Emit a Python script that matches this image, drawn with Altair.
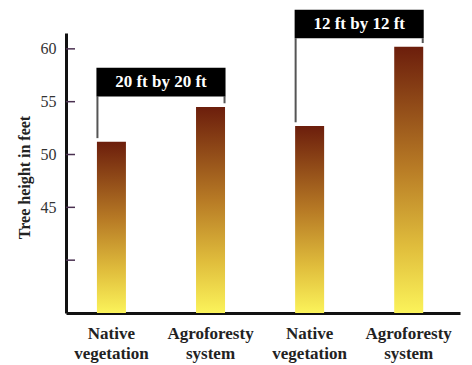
import altair as alt
import pandas as pd

# data
positions = [0, 1, 2, 3]
categories = ["Native\nvegetation", "Agroforesty\nsystem", "Native\nvegetation", "Agroforesty\nsystem"]
heights = [51.2, 54.5, 52.7, 60.2]

bracket_labels = ["20 ft by 20 ft", "12 ft by 12 ft"]
bracket_left = [0, 2]
bracket_right = [1, 3]
bracket_top = [58.2, 63.7]
bracket_bottom = [55.5, 61.0]

y_ticks = [40, 45, 50, 55, 60]

bars = pd.DataFrame({"pos": positions, "cat": categories, "h": heights})
br = pd.DataFrame({
    "label": bracket_labels,
    "left": bracket_left,
    "right": bracket_right,
    "mid": [(a + b) / 2 for a, b in zip(bracket_left, bracket_right)],
    "top": bracket_top,
    "bottom": bracket_bottom,
    "lend": [heights[i] + 0.35 for i in bracket_left],
    "rend": [heights[i] + 0.35 for i in bracket_right],
})
ticks = pd.DataFrame({"t": y_ticks})

SERIF = "Liberation Serif"
xs = alt.Scale(domain=[-0.408, 3.467], nice=False, zero=False)
ys = alt.Scale(domain=[35, 61.5], nice=False, zero=False)

grad = alt.Gradient(
    gradient="linear",
    x1=0, x2=0, y1=1, y2=0,
    stops=[
        alt.GradientStop(color="#fbf35a", offset=0),
        alt.GradientStop(color="#e0bd3c", offset=0.25),
        alt.GradientStop(color="#b77a25", offset=0.55),
        alt.GradientStop(color="#6c1e0c", offset=1),
    ],
)

base_bar = alt.Chart(bars).mark_bar(size=29, color=grad).encode(
    x=alt.X("pos:Q", scale=xs, axis=alt.Axis(
        labels=False, ticks=False, title=None, grid=False,
        domainColor="#111", domainWidth=3)),
    y=alt.Y("h:Q", scale=ys, axis=alt.Axis(
        values=y_ticks, ticks=False, grid=False,
        labelExpr="datum.value == 40 ? '' : datum.label",
        labelFont=SERIF, labelFontSize=16, labelColor="#333",
        labelPadding=10, domainColor="#111", domainWidth=3,
        title="Tree height in feet", titleFont=SERIF, titleFontSize=16,
        titleFontWeight="bold", titleColor="#222",
        titleX=-42, titleY=144, titleAngle=270,
        titleAlign="center", titleBaseline="middle")),
    y2=alt.datum(35),
)

tick_marks = alt.Chart(ticks).mark_rule(color="#4a3050", strokeWidth=1.5).encode(
    x=alt.value(0), x2=alt.value(9), y=alt.Y("t:Q", scale=ys),
)

cat_text = alt.Chart(bars).mark_text(
    font=SERIF, fontSize=17, fontWeight="bold", color="#222",
    baseline="top", lineBreak="\n", lineHeight=20,
).encode(
    x=alt.X("pos:Q", scale=xs), y=alt.value(293), text="cat:N",
)

boxes = alt.Chart(br).mark_rect(color="#000", xOffset=-15, x2Offset=15).encode(
    x=alt.X("left:Q", scale=xs), x2="right:Q",
    y=alt.Y("top:Q", scale=ys), y2="bottom:Q",
)

lline = alt.Chart(br).mark_rule(color="#555", strokeWidth=2, xOffset=-14).encode(
    x=alt.X("left:Q", scale=xs), y=alt.Y("bottom:Q", scale=ys), y2="lend:Q",
)
rline = alt.Chart(br).mark_rule(color="#555", strokeWidth=2, xOffset=14).encode(
    x=alt.X("right:Q", scale=xs), y=alt.Y("bottom:Q", scale=ys), y2="rend:Q",
)

box_text = alt.Chart(br).mark_text(
    font=SERIF, fontSize=17, fontWeight="bold", color="white", baseline="middle",
).encode(
    x=alt.X("mid:Q", scale=xs),
    y=alt.Y("ymid:Q", scale=ys),
    text="label:N",
).transform_calculate(ymid="(datum.top + datum.bottom) / 2")

chart = alt.layer(base_bar, tick_marks, lline, rline, boxes, box_text, cat_text).properties(
    width=394, height=280,
    autosize=alt.AutoSizeParams(type="none"),
    padding={"left": 58, "top": 25, "right": 4, "bottom": 50},
).configure_view(stroke=None)

chart.save("out.html", embed_options={"renderer": "svg", "actions": False})
